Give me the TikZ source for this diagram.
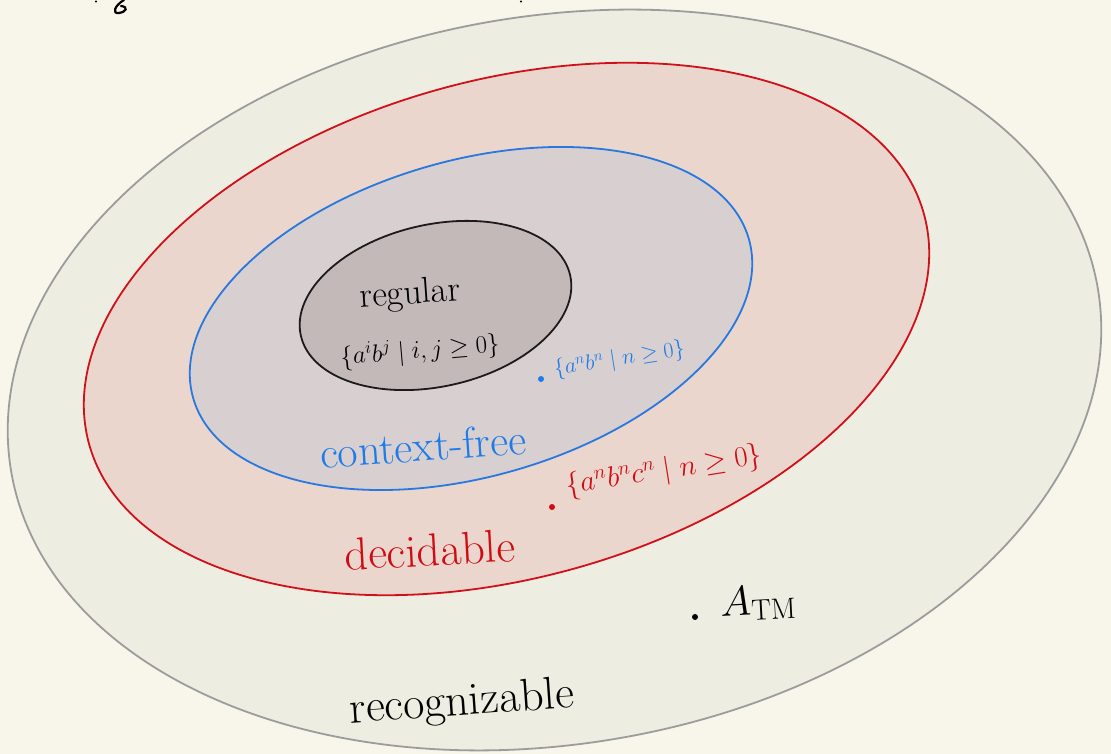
\RequirePackage{fix-cm}
\documentclass[tikz,border=0pt]{standalone}
\definecolor{paper}{HTML}{F8F6EA}
\definecolor{recfill}{HTML}{EDEDE1}
\definecolor{recline}{HTML}{9C9C9C}
\definecolor{decfill}{HTML}{EAD6CC}
\definecolor{decline}{HTML}{D0101A}
\definecolor{cffill}{HTML}{D7CFD0}
\definecolor{cfline}{HTML}{2878E0}
\definecolor{regfill}{HTML}{C3B9B9}
\definecolor{regline}{HTML}{1C1A1C}
\definecolor{inkblue}{HTML}{1E7BEA}
\definecolor{inkred}{HTML}{D10A14}
\tikzset{
  classline/.style={line width=1.8pt},
  label/.style={inner sep=0pt, anchor=center},
  pt/.style={circle, fill, inner sep=0pt, minimum size=6pt}
}
\newcommand{\fs}[1]{\fontsize{#1}{#1}\selectfont}
\begin{document}
\begin{tikzpicture}[x=1pt,y=1pt]
  % page
  \fill[paper] (0,0) rectangle (1111,754);
  \useasboundingbox (0,0) rectangle (1111,754);

  % nested language classes
  \filldraw[classline, draw=recline, fill=recfill, rotate around={9.5:(554.5,374)}]
    (554.5,374) ellipse [x radius=551, y radius=364];
  \filldraw[classline, draw=decline, fill=decfill, rotate around={15.4:(506.5,425)}]
    (506.5,425) ellipse [x radius=433, y radius=249];
  \filldraw[classline, draw=cfline, fill=cffill, rotate around={16:(471,435.5)}]
    (471,435.5) ellipse [x radius=289, y radius=158];
  \filldraw[classline, draw=regline, fill=regfill, rotate around={12.6:(435.5,448.5)}]
    (435.5,448.5) ellipse [x radius=138, y radius=81];

  % fragments at the top edge
  \fill (96,752.5) circle [radius=1.2pt];
  \draw[line width=2.2pt, line cap=round]
    (124,754) .. controls (114,748) and (112,740) .. (119,741)
    .. controls (126,742) and (129,747) .. (121,748);
  \fill (521,752.5) circle [radius=1.2pt];

  % labels
  \node[label, rotate=4] (reg) at (410,459) {\fs{36}regular};
  \node[label, rotate=5] (regex) at (420,403) {\fs{25}$\{a^ib^j\mid i,j\geq 0\}$};

  \node[pt, inkblue] (anbn) at (541,375) {};
  \node[label, inkblue, anchor=west, rotate=9] (anbnt) at (554,384) {\fs{22}$\{a^nb^n\mid n\geq 0\}$};
  \node[label, inkblue, rotate=4] (cf) at (423,308) {\fs{44}context-free};

  \node[pt, inkred] (anbncn) at (552,247) {};
  \node[label, inkred, anchor=west, rotate=9] (anbncnt) at (566,267) {\fs{29}$\{a^nb^nc^n\mid n\geq 0\}$};
  \node[label, inkred, rotate=3] (dec) at (430,204) {\fs{46}decidable};

  \node[pt, black] (atm) at (695,137) {};
  \node[label, anchor=west, rotate=3] (atmt) at (720,149) {\fs{42}$A_{\mathrm{TM}}$};

  \node[label, rotate=4] (rec) at (462,50) {\fs{46}recognizable};
\end{tikzpicture}
\end{document}
